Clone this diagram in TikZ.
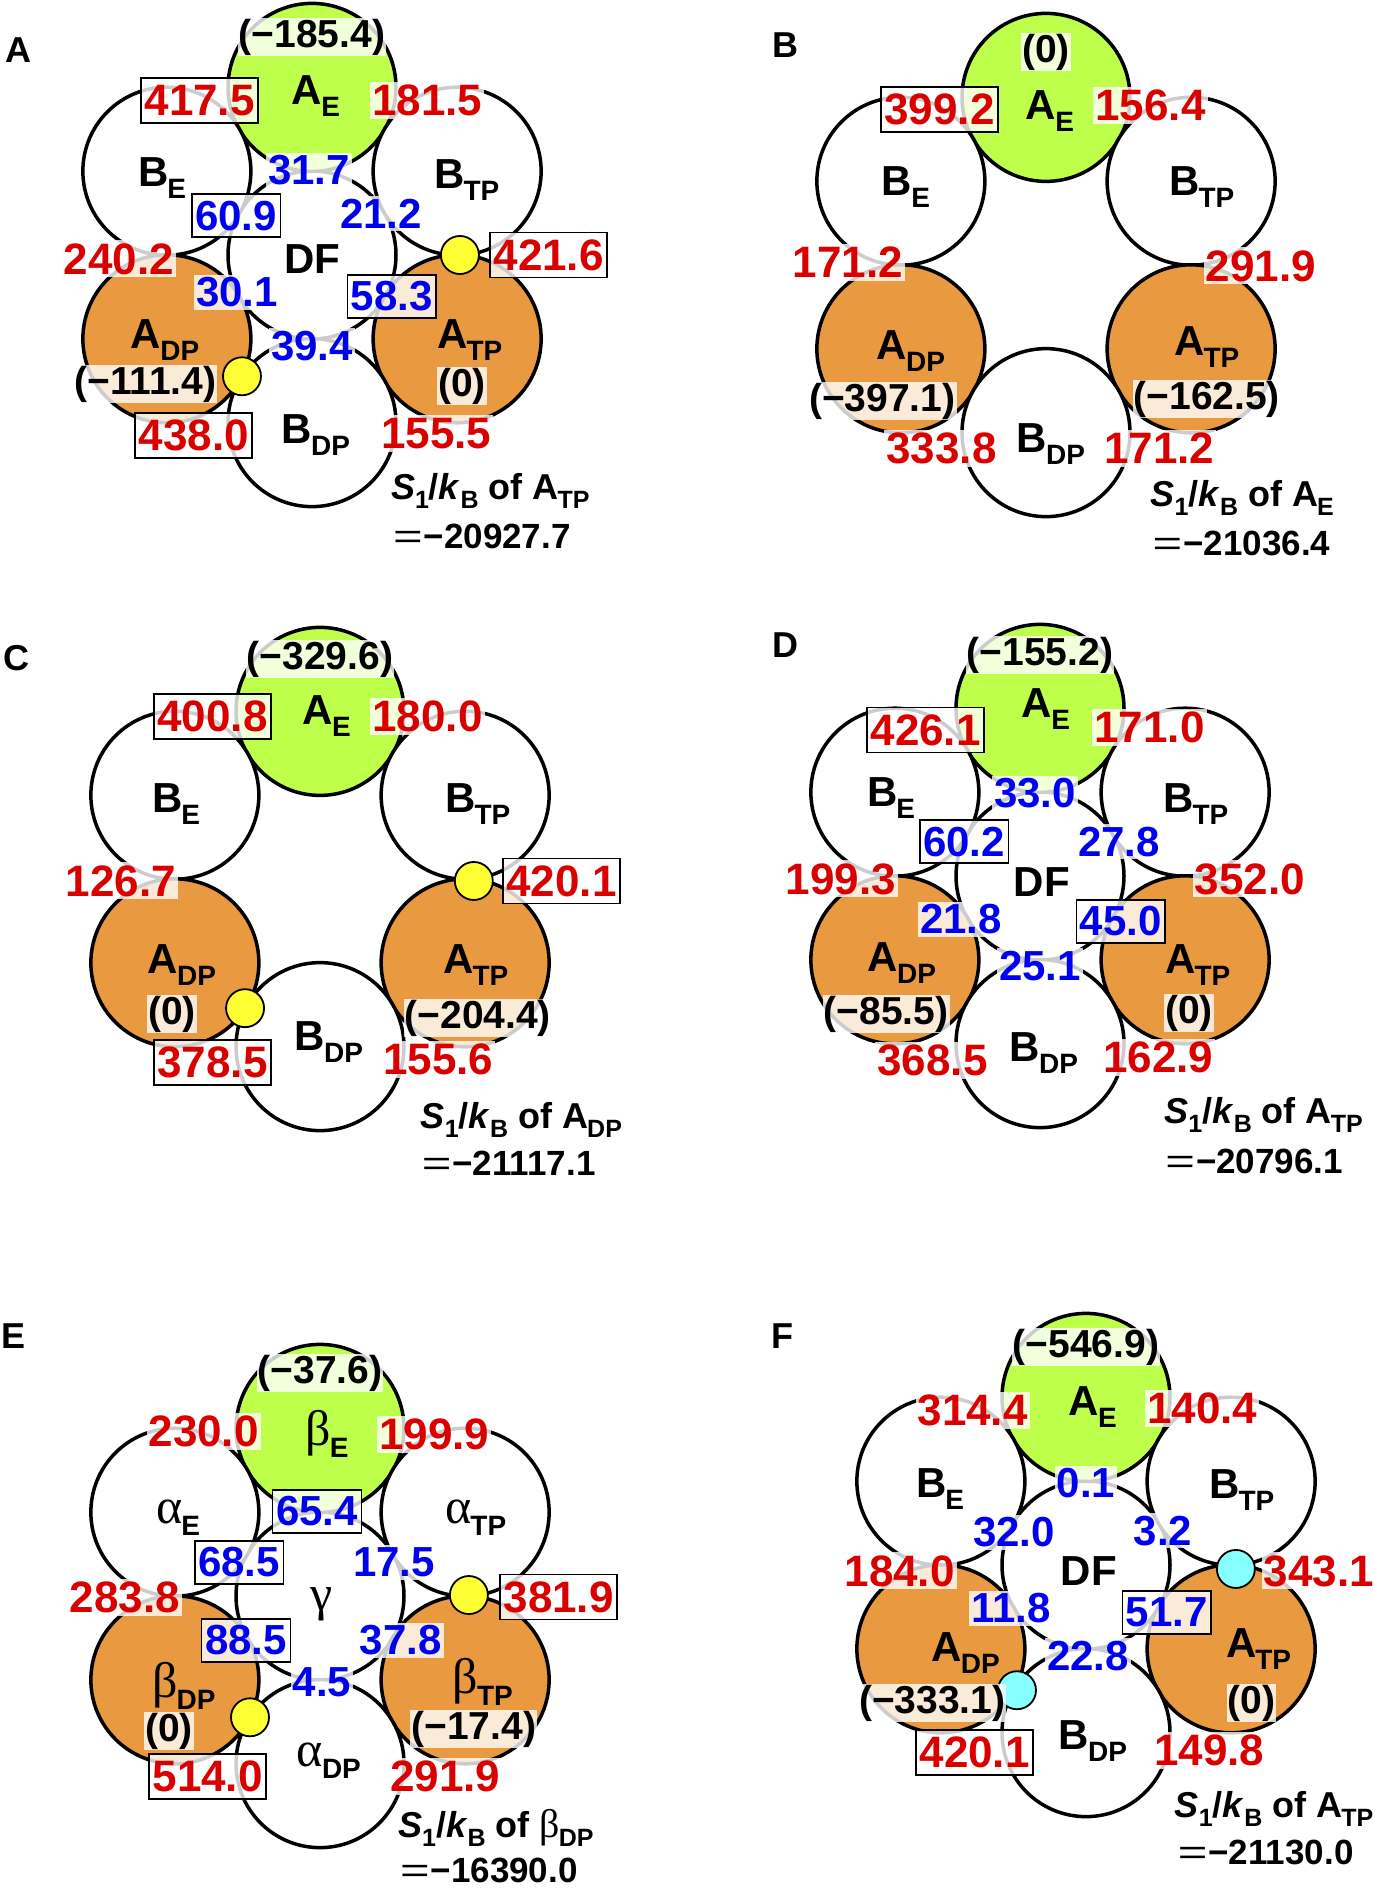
\documentclass[tikz,border=0pt]{standalone}
\usepackage{fontspec}
\usepackage{graphicx}
\setmainfont{Liberation Sans}
\newfontfamily\grk{Liberation Serif}
\definecolor{nred}{RGB}{218,0,0}
\definecolor{nblue}{RGB}{0,0,240}
\definecolor{lime}{RGB}{190,255,75}
\definecolor{orng}{RGB}{233,153,64}
\definecolor{ylw}{RGB}{255,255,51}
\definecolor{cyn}{RGB}{135,255,255}
\newcommand\sublab[2]{#1\kern-1pt\raisebox{-12pt}{\fontsize{28}{28}\selectfont #2}}
\newcommand\grl[1]{{\grk\mdseries\fontsize{50}{50}\selectfont #1}}
\newcommand\grs[1]{{\grk\mdseries\fontsize{40}{40}\selectfont #1}}
\newcommand\smsub[1]{\raisebox{-9pt}{\fontsize{25}{25}\selectfont #1}}
\newcommand\sline[2]{\textit{S}\smsub{1}/\textit{k}\smsub{B} of #1\kern-1pt\smsub{#2}}
\newcommand\eqline[1]{\scalebox{1.45}[1]{\mdseries =}\kern1pt#1}
\tikzset{
 ring/.style={circle, draw=black, line width=3.5pt, minimum size=168pt, inner sep=0pt},
 wc/.style={ring, fill=white},
 gc/.style={ring, fill=lime},
 oc/.style={ring, fill=orng},
 ydot/.style={circle, draw=black, line width=1.8pt, fill=ylw, minimum size=38pt, inner sep=0pt},
 cdot/.style={ydot, fill=cyn},
 bgl/.style={fill=white, fill opacity=0.8, text opacity=1, inner xsep=2pt, inner ysep=2pt},
 rn/.style={bgl, text=nred, font=\fontsize{44}{44}\selectfont\bfseries, text height=32pt, text depth=1pt},
 bn/.style={bgl, text=nblue, font=\fontsize{42}{42}\selectfont\bfseries, text height=30pt, text depth=1pt},
 boxd/.style={draw=black, draw opacity=1, line width=1.6pt, inner xsep=3.5pt, inner ysep=6pt},
 rb/.style={rn, boxd},
 bb/.style={bn, boxd},
 kn/.style={bgl, font=\fontsize{39}{39}\selectfont\bfseries, inner sep=1pt},
 lab/.style={font=\fontsize{42}{42}\selectfont\bfseries, inner sep=0pt},
 note/.style={font=\fontsize{36}{36}\selectfont\bfseries, anchor=west, inner sep=0pt},
 eqn/.style={font=\fontsize{35}{35}\selectfont\bfseries, anchor=west, inner sep=0pt},
 plet/.style={font=\fontsize{36}{36}\selectfont\bfseries, inner sep=0pt},
}
\begin{document}
\begin{tikzpicture}[x=1pt,y=-1pt]
\path[use as bounding box, fill=white] (0,0) rectangle (1373,1891);
% panel letters
\node[plet] (LA) at (18,50) {A};
\node[plet] (LB) at (785,45) {B};
\node[plet] (LC) at (16,658) {C};
\node[plet] (LD) at (785,645) {D};
\node[plet] (LE) at (14,1336) {E};
\node[plet] (LF) at (782,1336) {F};

% ================= A
\begin{scope}[shift={(312,255)}, scale=0.986]
\node[wc] (a-df) at (0,0) {};
\node[gc] (a-ae) at (0,-170) {};
\node[wc] (a-be) at (-147.2,-85) {};
\node[wc] (a-btp) at (147.2,-85) {};
\node[oc] (a-adp) at (-147.2,85) {};
\node[oc] (a-atp) at (147.2,85) {};
\node[wc] (a-bdp) at (0,170) {};
\node[ydot] (a-d1) at (150,0) {};
\node[ydot] (a-d2) at (-71,123) {};
\node[kn] (a-k1) at (0,-221) {(−185.4)};
\node[lab] (a-l1) at (4,-161) {\sublab{A}{E}};
\node[rb] (a-r1) at (-114,-157) {417.5};
\node[rn] (a-r2) at (117,-157) {181.5};
\node[lab] (a-l2) at (-152,-78) {\sublab{B}{E}};
\node[lab] (a-l3) at (157,-76) {\sublab{B}{TP}};
\node[bn] (a-b1) at (-3,-86) {31.7};
\node[bb] (a-b2) at (-77,-40) {60.9};
\node[bn] (a-b3) at (70,-42) {21.2};
\node[rn] (a-r3) at (-196,4) {240.2};
\node[lab] (a-l4) at (0,4) {DF};
\node[rb] (a-r4) at (240,0) {421.6};
\node[bn] (a-b4) at (-76,38) {30.1};
\node[bb] (a-b5) at (81,42) {58.3};
\node[lab] (a-l5) at (-149,86) {\sublab{A}{DP}};
\node[lab] (a-l6) at (160,86) {\sublab{A}{TP}};
\node[bn] (a-b6) at (0,92) {39.4};
\node[kn] (a-k2) at (-169,131) {(−111.4)};
\node[kn] (a-k3) at (152,133) {(0)};
\node[rb] (a-r5) at (-120,183) {438.0};
\node[lab] (a-l7) at (4,183) {\sublab{B}{DP}};
\node[rn] (a-r6) at (126,181) {155.5};
\node[note] (a-s) at (80,239) {\sline{A}{TP}};
\node[eqn] (a-e) at (82,285) {\eqline{−20927.7}};
\end{scope}

% ================= B
\begin{scope}[shift={(1046,265)}, scale=0.986]
\node[gc] (b-ae) at (0,-170) {};
\node[wc] (b-be) at (-147.2,-85) {};
\node[wc] (b-btp) at (147.2,-85) {};
\node[oc] (b-adp) at (-147.2,85) {};
\node[oc] (b-atp) at (147.2,85) {};
\node[wc] (b-bdp) at (0,170) {};
\node[kn] (b-k1) at (0,-216) {(0)};
\node[lab] (b-l1) at (4,-156) {\sublab{A}{E}};
\node[rb] (b-r1) at (-108,-158) {399.2};
\node[rn] (b-r2) at (106,-162) {156.4};
\node[lab] (b-l2) at (-142,-79) {\sublab{B}{E}};
\node[lab] (b-l3) at (158,-79) {\sublab{B}{TP}};
\node[rn] (b-r3) at (-201,-3) {171.2};
\node[rn] (b-r4) at (218,1) {291.9};
\node[lab] (b-l5) at (-137,87) {\sublab{A}{DP}};
\node[lab] (b-l6) at (163,83) {\sublab{A}{TP}};
\node[kn] (b-k2) at (-166,138) {(−397.1)};
\node[kn] (b-k3) at (163,136) {(−162.5)};
\node[rn] (b-r5) at (-106,186) {333.8};
\node[lab] (b-l7) at (5,182) {\sublab{B}{DP}};
\node[rn] (b-r6) at (115,186) {171.2};
\node[note] (b-s) at (106,236) {\sline{A}{E}};
\node[eqn] (b-e) at (108,282) {\eqline{−21036.4}};
\end{scope}

% ================= C
\begin{scope}[shift={(320,879)}, scale=0.986]
\node[gc] (c-ae) at (0,-170) {};
\node[wc] (c-be) at (-147.2,-85) {};
\node[wc] (c-btp) at (147.2,-85) {};
\node[oc] (c-adp) at (-147.2,85) {};
\node[oc] (c-atp) at (147.2,85) {};
\node[wc] (c-bdp) at (0,170) {};
\node[ydot] (c-d1) at (156,2) {};
\node[ydot] (c-d2) at (-76,131) {};
\node[kn] (c-k1) at (0,-223) {(−329.6)};
\node[lab] (c-l1) at (7,-165) {\sublab{A}{E}};
\node[rb] (c-r1) at (-109,-165) {400.8};
\node[rn] (c-r2) at (109,-165) {180.0};
\node[lab] (c-l2) at (-146,-76) {\sublab{B}{E}};
\node[lab] (c-l3) at (160,-76) {\sublab{B}{TP}};
\node[rn] (c-r3) at (-202,2) {126.7};
\node[rb] (c-r4) at (245,2) {420.1};
\node[lab] (c-l5) at (-140,87) {\sublab{A}{DP}};
\node[lab] (c-l6) at (158,87) {\sublab{A}{TP}};
\node[kn] (c-k2) at (-150,137) {(0)};
\node[kn] (c-k3) at (160,141) {(−204.4)};
\node[rb] (c-r5) at (-109,186) {378.5};
\node[lab] (c-l7) at (9,165) {\sublab{B}{DP}};
\node[rn] (c-r6) at (120,183) {155.6};
\node[note] (c-s) at (102,244) {\sline{A}{DP}};
\node[eqn] (c-e) at (103,288) {\eqline{−21117.1}};
\end{scope}

% ================= D
\begin{scope}[shift={(1040,876)}, scale=0.986]
\node[wc] (d-df) at (0,0) {};
\node[gc] (d-ae) at (0,-170) {};
\node[wc] (d-be) at (-147.2,-85) {};
\node[wc] (d-btp) at (147.2,-85) {};
\node[oc] (d-adp) at (-147.2,85) {};
\node[oc] (d-atp) at (147.2,85) {};
\node[wc] (d-bdp) at (0,170) {};
\node[kn] (d-k1) at (0,-224) {(−155.2)};
\node[lab] (d-l1) at (6,-169) {\sublab{A}{E}};
\node[rb] (d-r1) at (-116,-148) {426.1};
\node[rn] (d-r2) at (111,-151) {171.0};
\node[bn] (d-b1) at (-5,-84) {33.0};
\node[lab] (d-l2) at (-151,-79) {\sublab{B}{E}};
\node[lab] (d-l3) at (158,-73) {\sublab{B}{TP}};
\node[bb] (d-b2) at (-77,-35) {60.2};
\node[bn] (d-b3) at (80,-35) {27.8};
\node[rn] (d-r3) at (-202,3) {199.3};
\node[lab] (d-l4) at (2,6) {DF};
\node[rn] (d-r4) at (213,3) {352.0};
\node[bn] (d-b4) at (-80,44) {21.8};
\node[bb] (d-b5) at (82,46) {45.0};
\node[lab] (d-l5) at (-140,88) {\sublab{A}{DP}};
\node[lab] (d-l6) at (160,90) {\sublab{A}{TP}};
\node[bn] (d-b6) at (0,91) {25.1};
\node[kn] (d-k2) at (-156,140) {(−85.5)};
\node[kn] (d-k3) at (151,139) {(0)};
\node[rn] (d-r5) at (-109,187) {368.5};
\node[lab] (d-l7) at (4,180) {\sublab{B}{DP}};
\node[rn] (d-r6) at (120,184) {162.9};
\node[note] (d-s) at (126,242) {\sline{A}{TP}};
\node[eqn] (d-e) at (127,289) {\eqline{−20796.1}};
\end{scope}

% ================= E
\begin{scope}[shift={(320,1596)}, scale=0.986]
\node[wc] (e-g) at (0,0) {};
\node[gc] (e-be) at (0,-170) {};
\node[wc] (e-ae) at (-147.2,-85) {};
\node[wc] (e-atp) at (147.2,-85) {};
\node[oc] (e-bdp) at (-147.2,85) {};
\node[oc] (e-btp) at (147.2,85) {};
\node[wc] (e-adp) at (0,170) {};
\node[ydot] (e-d1) at (151,-1) {};
\node[ydot] (e-d2) at (-71,123) {};
\node[kn] (e-k1) at (0,-226) {(−37.6)};
\node[lab] (e-l1) at (7,-164) {\sublab{\grl{β}}{E}};
\node[rn] (e-r1) at (-118,-167) {230.0};
\node[rn] (e-r2) at (116,-164) {199.9};
\node[lab] (e-l2) at (-144,-79) {\sublab{\grl{α}}{E}};
\node[bb] (e-b1) at (-3,-86) {65.4};
\node[lab] (e-l3) at (158,-79) {\sublab{\grl{α}}{TP}};
\node[bb] (e-b2) at (-82,-34) {68.5};
\node[bn] (e-b3) at (75,-34) {17.5};
\node[rn] (e-r3) at (-198,1) {283.8};
\node[lab] (e-l4) at (2,8) {\grl{γ}};
\node[rb] (e-r4) at (242,1) {381.9};
\node[bb] (e-b4) at (-75,45) {88.5};
\node[bn] (e-b5) at (82,45) {37.8};
\node[lab] (e-l5) at (-138,91) {\sublab{\grl{β}}{DP}};
\node[lab] (e-l6) at (165,87) {\sublab{\grl{β}}{TP}};
\node[bn] (e-b6) at (2,87) {4.5};
\node[kn] (e-k2) at (-153,137) {(0)};
\node[kn] (e-k3) at (156,135) {(−17.4)};
\node[rb] (e-r5) at (-114,183) {514.0};
\node[lab] (e-l7) at (9,167) {\sublab{\grl{α}}{DP}};
\node[rn] (e-r6) at (127,183) {291.9};
\node[note] (e-s) at (79,235) {\sline{\grs{β}}{DP}};
\node[eqn] (e-e) at (81,278) {\eqline{−16390.0}};
\end{scope}

% ================= F
\begin{scope}[shift={(1086,1565)}, scale=0.986]
\node[wc] (f-df) at (0,0) {};
\node[gc] (f-ae) at (0,-170) {};
\node[wc] (f-be) at (-147.2,-85) {};
\node[wc] (f-btp) at (147.2,-85) {};
\node[oc] (f-adp) at (-147.2,85) {};
\node[oc] (f-atp) at (147.2,85) {};
\node[wc] (f-bdp) at (0,170) {};
\node[cdot] (f-d1) at (152,4) {};
\node[cdot] (f-d2) at (-70,127) {};
\node[kn] (f-k1) at (0,-221) {(−546.9)};
\node[lab] (f-l1) at (7,-160) {\sublab{A}{E}};
\node[rn] (f-r1) at (-115,-157) {314.4};
\node[rn] (f-r2) at (118,-159) {140.4};
\node[bn] (f-b1) at (0,-83) {0.1};
\node[lab] (f-l2) at (-148,-77) {\sublab{B}{E}};
\node[lab] (f-l3) at (158,-76) {\sublab{B}{TP}};
\node[bn] (f-b2) at (-73,-33) {32.0};
\node[bn] (f-b3) at (78,-35) {3.2};
\node[rn] (f-r3) at (-189,6) {184.0};
\node[lab] (f-l4) at (3,6) {DF};
\node[rn] (f-r4) at (236,6) {343.1};
\node[bn] (f-b4) at (-76,44) {11.8};
\node[bb] (f-b5) at (82,48) {51.7};
\node[lab] (f-l5) at (-122,89) {\sublab{A}{DP}};
\node[lab] (f-l6) at (175,85) {\sublab{A}{TP}};
\node[bn] (f-b6) at (2,92) {22.8};
\node[kn] (f-k2) at (-156,140) {(−333.1)};
\node[kn] (f-k3) at (168,140) {(0)};
\node[rb] (f-r5) at (-113,190) {420.1};
\node[lab] (f-l7) at (7,179) {\sublab{B}{DP}};
\node[rn] (f-r6) at (125,188) {149.8};
\node[note] (f-s) at (90,247) {\sline{A}{TP}};
\node[eqn] (f-e) at (93,292) {\eqline{−21130.0}};
\end{scope}
\end{tikzpicture}
\end{document}
